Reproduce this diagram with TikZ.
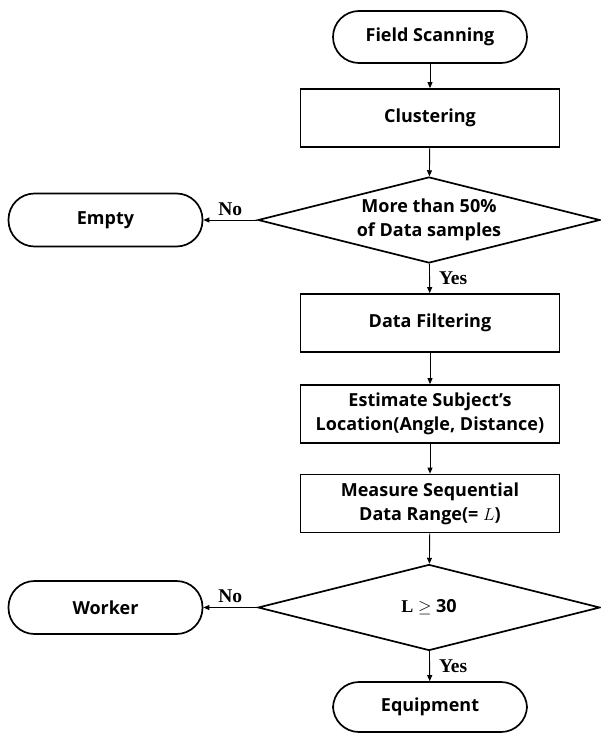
\documentclass[tikz,border=0pt]{standalone}
\usepackage{fontspec}
\setmainfont{Open Sans}
\newfontfamily\lblfont{Liberation Serif}
\usetikzlibrary{shapes.geometric,arrows.meta}
\begin{document}
\begin{tikzpicture}[x=1pt,y=-1pt,
  base/.style={draw=black, line width=1.7pt, inner sep=0pt, align=center,
    font=\bfseries\fontsize{18}{24}\selectfont},
  terminal/.style={base, rectangle, rounded corners=26pt,
    minimum width=194pt, minimum height=52pt},
  proc/.style={base, rectangle, minimum width=259pt, minimum height=58pt},
  decision/.style={base, diamond, aspect=4,
    minimum width=342pt, minimum height=86pt},
  flow/.style={line width=0.9pt, -{Triangle[length=6pt,width=5pt]}},
  answer/.style={font=\lblfont\bfseries\fontsize{19.5}{20}\selectfont, inner sep=0pt}
]
\useasboundingbox (0,0) rectangle (601,733);

% main column
\node[terminal] (scan) at (430,37) {Field Scanning};
\node[proc] (clus) at (430,118) {Clustering};
\node[decision] (half) at (429,220) {More than 50\%\\of Data samples};
\node[proc] (filt) at (430,323) {Data Filtering};
\node[proc] (est) at (430,414) {Estimate Subject’s\\Location(Angle, Distance)};
\node[proc] (meas) at (430,503.5) {Measure Sequential\\Data Range(= $L$)};
\node[decision] (range) at (429,607.5) {{\lblfont L} $\geq$ 30};
\node[terminal, minimum height=50pt] (equip) at (430,707) {Equipment};

% side exits
\node[terminal, minimum height=53pt] (empty) at (105.5,220) {Empty};
\node[terminal, minimum height=53pt] (worker) at (105.5,607.5) {Worker};

% connectors
\draw[flow] (scan) -- (clus);
\draw[flow] (clus) -- (half);
\draw[flow] (half) -- node[answer, right=9pt] {Yes} (filt);
\draw[flow] (half.west) -- node[answer, above=4pt] {No} (empty.east);
\draw[flow] (filt) -- (est);
\draw[flow] (est) -- (meas);
\draw[flow] (meas) -- (range);
\draw[flow] (range) -- node[answer, right=9pt] {Yes} (equip);
\draw[flow] (range.west) -- node[answer, above=4pt] {No} (worker.east);
\end{tikzpicture}
\end{document}
